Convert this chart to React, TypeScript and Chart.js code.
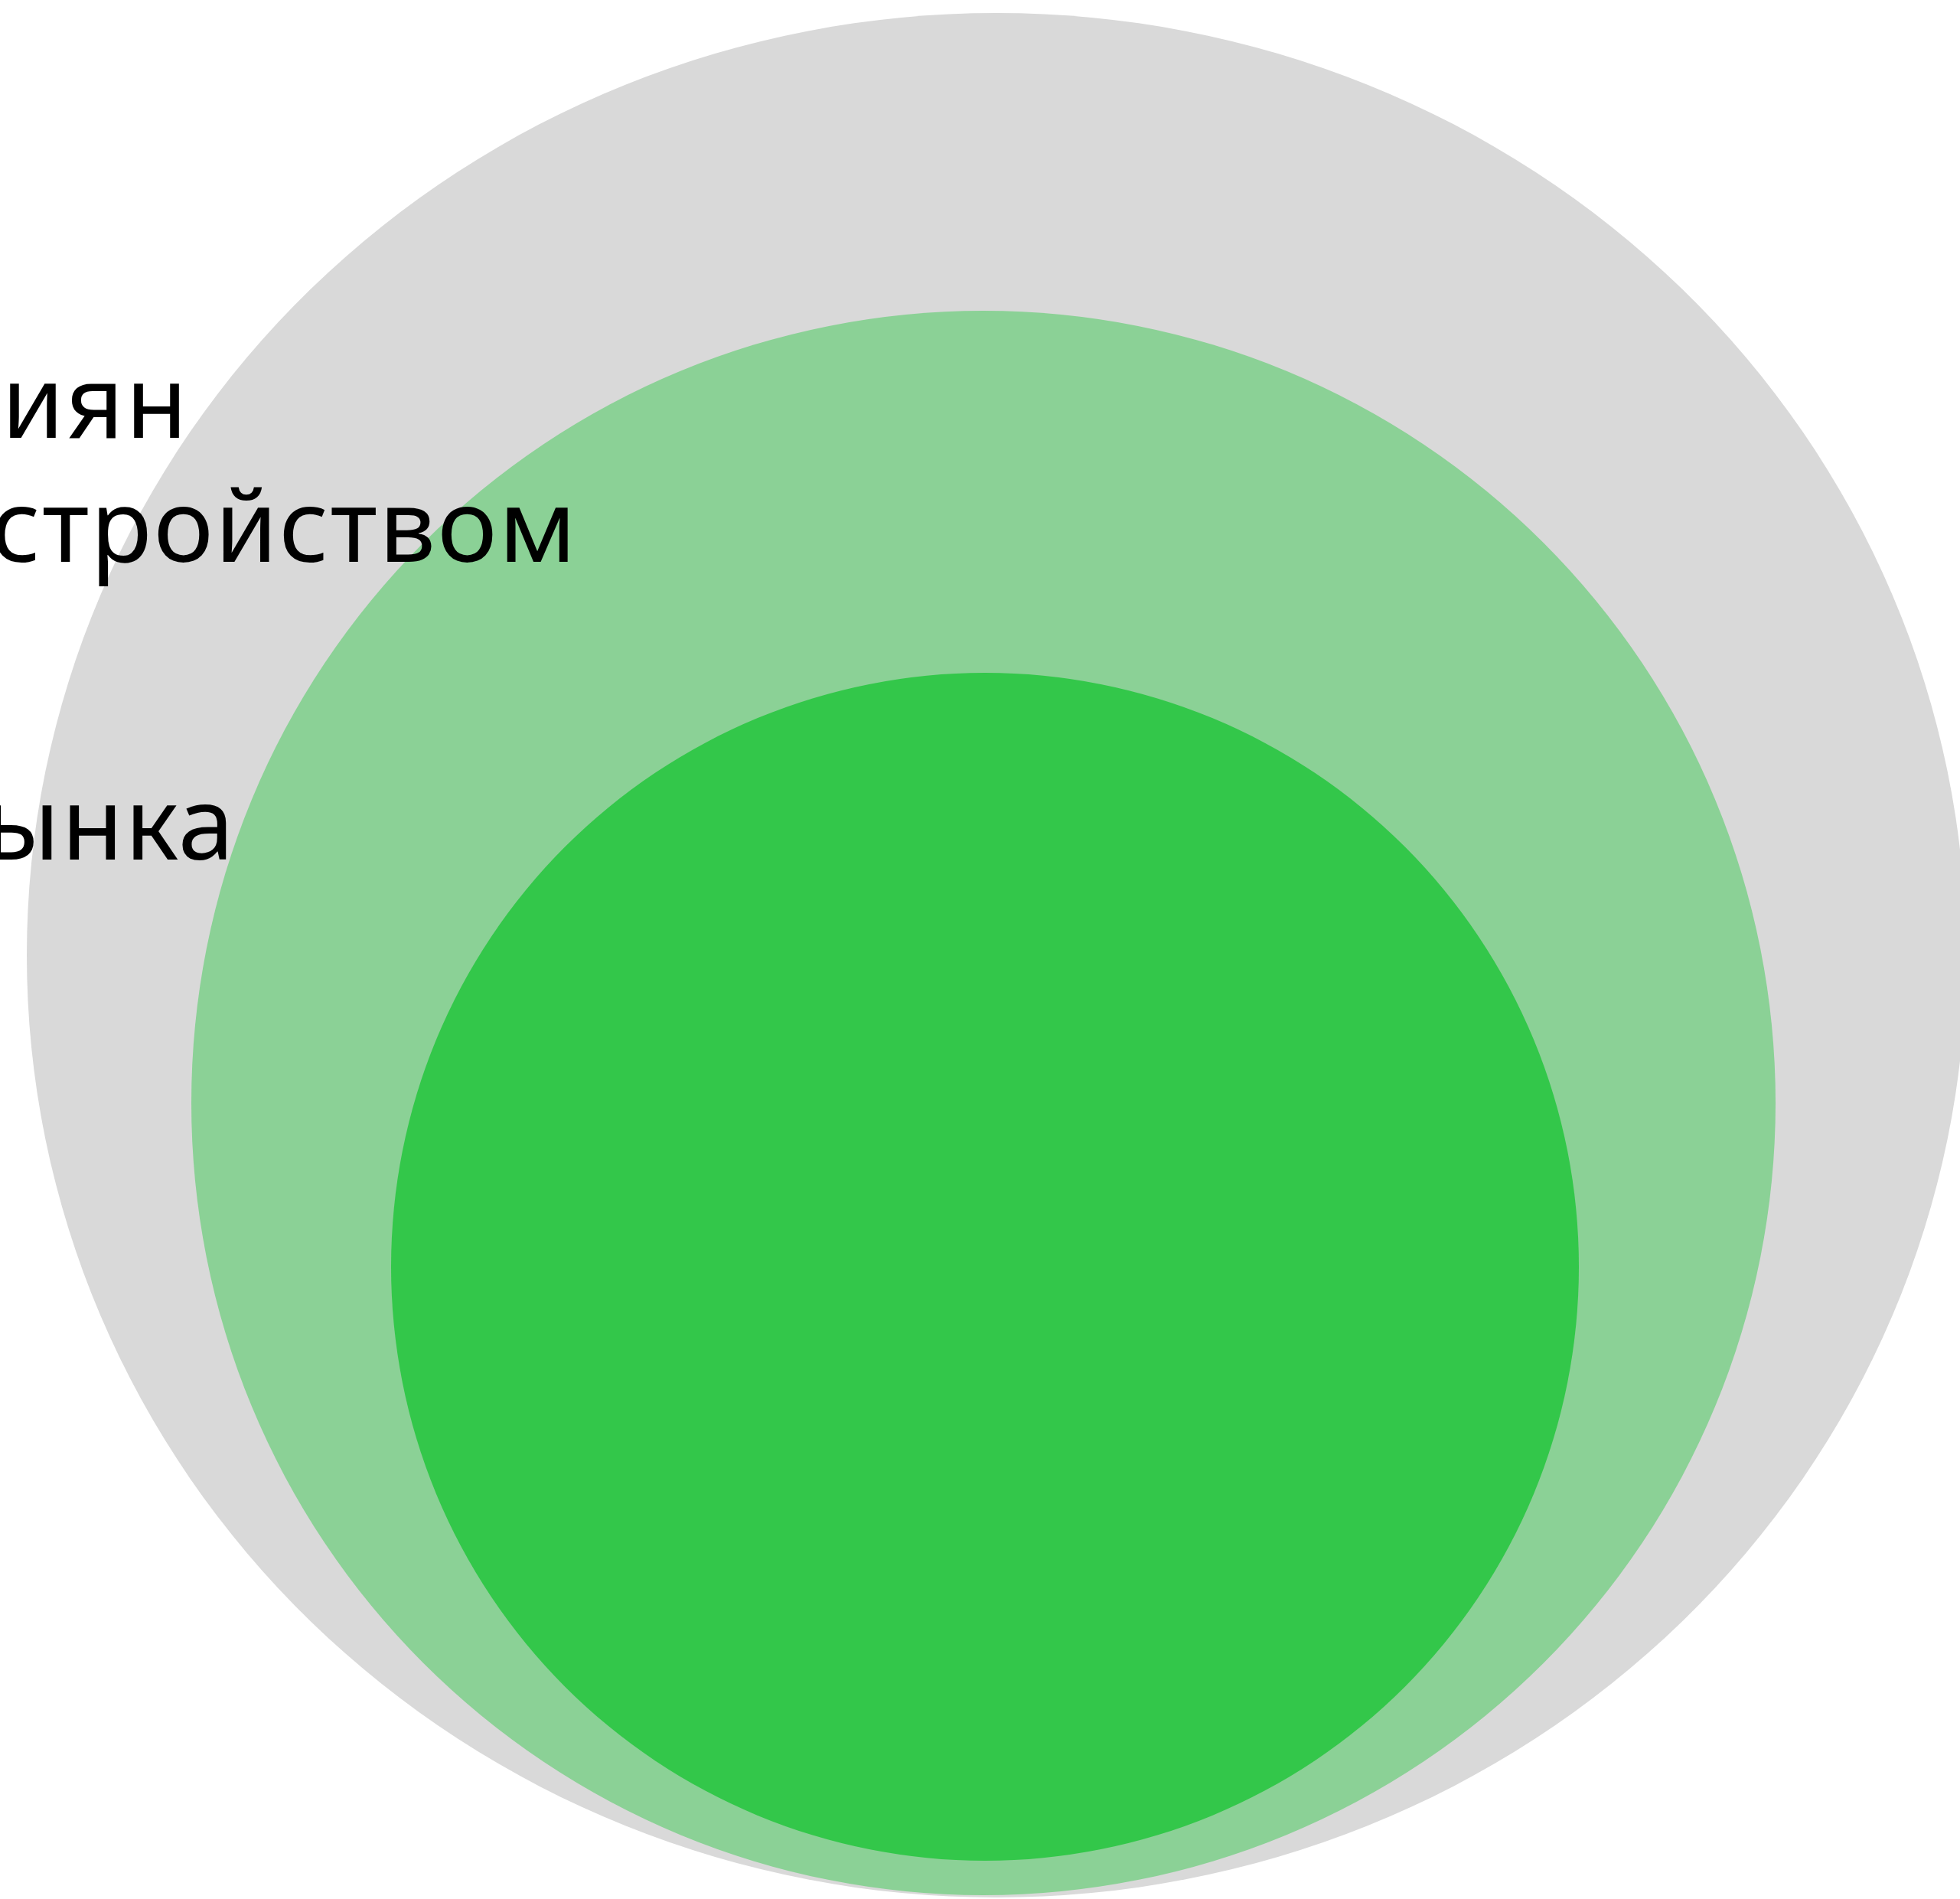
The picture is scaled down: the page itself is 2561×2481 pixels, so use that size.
import React, { useEffect, useRef } from "react";
import { Chart, registerables } from "chart.js";

Chart.register(...registerables);

// Nested market circles (units: 1 unit = 10 px of the 2561×2481 picture)
const labels = ["россиян", "с устройством", "рынка"];
const centerX = [130.2, 128.5, 128.7];
const centerY = [124.8, 144.1, 165.5];
const radiusX = [126.7, 103.5, 77.6];
const radiusY = [123.1, 103.5, 77.6];

// styling / layout
const colors = ["#D9D9D9", "#8BD196", "#33C74A"];
const labelRightX = [24.5, 75.3, 30.6];
const labelBaselineY = [57.2, 73.4, 112.3];
const W = 2561;
const H = 2481;

const ellipsePlugin = {
  id: "ellipseScale",
  beforeDatasetDraw(chart: any, args: any) {
    const i = args.index;
    const ctx = chart.ctx;
    const xs = chart.scales.x;
    const ys = chart.scales.y;
    const cx = xs.getPixelForValue(centerX[i]);
    const cy = ys.getPixelForValue(centerY[i]);
    ctx.save();
    ctx.translate(cx, cy);
    ctx.scale(1, radiusY[i] / radiusX[i]);
    ctx.translate(-cx, -cy);
  },
  afterDatasetDraw(chart: any) {
    chart.ctx.restore();
  },
};

const labelPlugin = {
  id: "sideLabels",
  afterDraw(chart: any) {
    const ctx = chart.ctx;
    const xs = chart.scales.x;
    const ys = chart.scales.y;
    ctx.save();
    ctx.font = '400 132px "Noto Sans", "Open Sans", sans-serif';
    const target = 700;
    const w = ctx.measureText("тройством").width;
    const ls = (target - w) / 9;
    (ctx as any).letterSpacing = ls + "px";
    ctx.fillStyle = "#000000";
    ctx.textAlign = "right";
    ctx.textBaseline = "alphabetic";
    labels.forEach((t, i) => {
      ctx.fillText(t, xs.getPixelForValue(labelRightX[i]) + ls, ys.getPixelForValue(labelBaselineY[i]));
    });
    ctx.restore();
  },
};

export default function App() {
  const ref = useRef<HTMLCanvasElement | null>(null);
  useEffect(() => {
    if (!ref.current) return;
    const pxRadius = (i: number) => (c: any) => {
      const s = c.chart.scales.x;
      if (!s) return 0;
      const v = Math.abs(s.getPixelForValue(radiusX[i]) - s.getPixelForValue(0));
      return isFinite(v) ? v : 0;
    };
    const chart = new Chart(ref.current, {
      type: "scatter",
      data: {
        datasets: labels.map((l, i) => ({
          label: l,
          data: [{ x: centerX[i], y: centerY[i] }],
          order: labels.length - 1 - i,
          pointBackgroundColor: colors[i],
          backgroundColor: colors[i],
          pointBorderWidth: 0,
          borderWidth: 0,
          pointRadius: pxRadius(i),
          pointHoverRadius: pxRadius(i),
          showLine: false,
          clip: false as any,
        })),
      },
      options: {
        animation: false,
        responsive: false,
        devicePixelRatio: 1,
        layout: { padding: 0 },
        events: [],
        plugins: { legend: { display: false }, tooltip: { enabled: false } },
        scales: {
          x: { type: "linear", min: 0, max: W / 10, display: false },
          y: { type: "linear", min: 0, max: H / 10, reverse: true, display: false },
        },
      },
      plugins: [ellipsePlugin, labelPlugin],
    });
    return () => chart.destroy();
  }, []);
  return (
    <div style={{ position: "fixed", left: 0, top: 0, width: W, height: H, background: "#ffffff" }}>
      <canvas ref={ref} width={W} height={H} style={{ width: W, height: H, display: "block" }} />
    </div>
  );
}
